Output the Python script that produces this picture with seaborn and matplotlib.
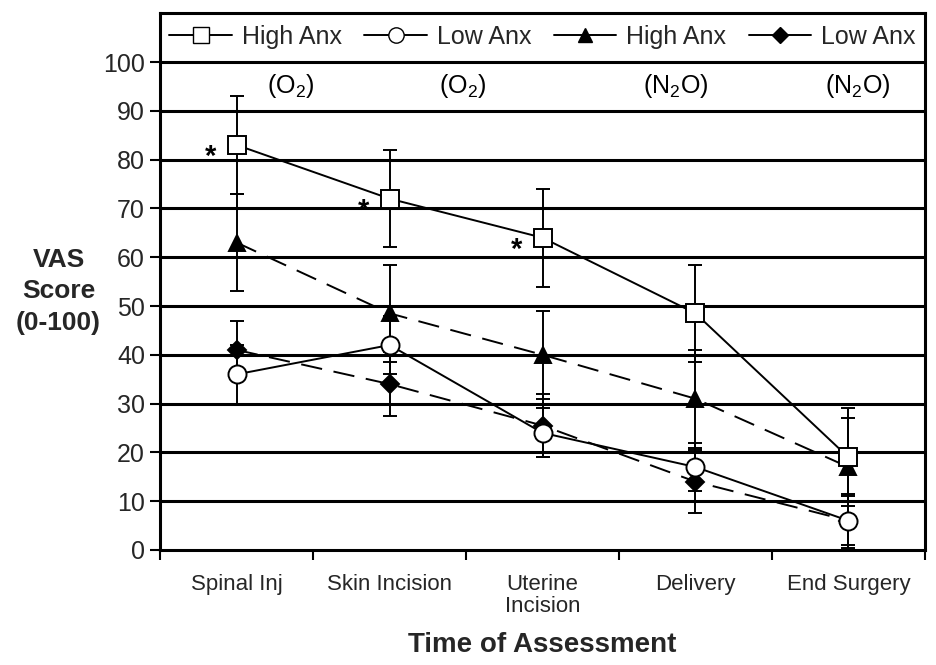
import matplotlib
matplotlib.use("Agg")
import matplotlib.pyplot as plt
import seaborn as sns
import pandas as pd
import numpy as np
from matplotlib.lines import Line2D

categories = ["Spinal Inj", "Skin Incision", "Uterine\nIncision", "Delivery", "End Surgery"]
high_o2 = [83, 72, 64, 48.5, 19]
high_o2_err = [10, 10, 10, 10, 10]
low_o2 = [36, 42, 24, 17, 6]
low_o2_err = [6, 6, 5, 5, 5.5]
high_n2o = [63, 48.5, 40, 31, 17]
high_n2o_err = [10, 10, 9, 10, 10]
low_n2o = [41, 34, 25.5, 14, 6]
low_n2o_err = [6, 6.5, 6.5, 6.5, 5]
gas_labels = ["(O$_2$)", "(O$_2$)", "(N$_2$O)", "(N$_2$O)"]
gas_x = [0.85, 1.98, 3.37, 4.56]
star_idx = [0, 1, 2]

sns.set_theme(style="white")
plt.rcParams['font.family'] = ['Liberation Sans', 'DejaVu Sans']
plt.rcParams['mathtext.fontset'] = 'custom'
plt.rcParams['mathtext.rm'] = 'Liberation Sans'

fig = plt.figure(figsize=(9.37, 6.65), dpi=100)
ax = fig.add_axes([0.171, 0.173, 0.816, 0.807])

xpos = np.arange(len(categories)) + 0.5
series = [
    ("High Anx", high_o2, high_o2_err, "s", "white", "-"),
    ("Low Anx", low_o2, low_o2_err, "o", "white", "-"),
    ("High Anx ", high_n2o, high_n2o_err, "^", "black", "--"),
    ("Low Anx ", low_n2o, low_n2o_err, "D", "black", "--"),
]

# gridlines
for yv in range(10, 101, 10):
    ax.axhline(yv, color="black", lw=2.2, zorder=1)

handles = []
for i, (name, vals, errs, mk, fc, ls) in enumerate(series):
    df = pd.DataFrame({"x": xpos, "y": vals})
    ax.errorbar(xpos, vals, yerr=errs, fmt="none", ecolor="black", elinewidth=1.4,
                capsize=5, capthick=1.4, zorder=2)
    sns.lineplot(data=df, x="x", y="y", ax=ax, color="black", lw=1.4, legend=False,
                 sort=False, zorder=3 + (3 - i))
    l = ax.lines[-1]
    if ls == "--":
        l.set_dashes((11, 6))
    ms = 13 if mk in ("s", "o") else (12 if mk == "^" else 9)
    ax.plot(xpos, vals, linestyle="none", marker=mk, markersize=ms,
            markerfacecolor=fc, markeredgecolor="black", markeredgewidth=1.4,
            zorder=4 + (3 - i))
    handles.append(Line2D([], [], color="black", lw=1.4, marker=mk,
                          markersize=ms * 0.85, markerfacecolor=fc,
                          markeredgecolor="black"))

for k in star_idx:
    ax.text(xpos[k] - 0.17, high_o2[k] - 2.5, "*", fontsize=21, ha="center",
            va="center", color="black", fontweight="bold")

for gx, gl in zip(gas_x, gas_labels):
    ax.text(gx, 95, gl, fontsize=18, ha="center", va="center", color="black")

leg = ax.legend(handles, ["High Anx", "Low Anx", "High Anx", "Low Anx"],
                loc="center", bbox_to_anchor=(0.5, 105 / 110 + 0.002), ncol=4,
                frameon=False, fontsize=18, handlelength=2.5, handletextpad=0.4,
                columnspacing=0.9, borderaxespad=0)

ax.set_xlim(0, 5)
ax.set_ylim(0, 110)
ax.set_yticks(range(0, 101, 10))
ax.set_yticklabels([str(v) for v in range(0, 101, 10)], fontsize=18)
ax.set_xticks(range(0, 6))
ax.set_xticklabels([])
ax.set_xticks(xpos, minor=True)
ax.set_xticklabels(categories, minor=True, fontsize=16, va="top", linespacing=1.1)
ax.tick_params(axis="x", which="major", length=7, width=1.5, direction="out",
               bottom=True, color="black")
ax.tick_params(axis="x", which="minor", length=0, pad=17)
ax.tick_params(axis="y", length=7, width=1.5, direction="out", left=True,
               color="black", pad=4)
for sp in ax.spines.values():
    sp.set_color("black")
    sp.set_linewidth(2.2)

ax.set_xlabel("Time of Assessment", fontsize=20, fontweight="bold", labelpad=11)
ax.set_ylabel("VAS\nScore\n(0-100)", fontsize=19, fontweight="bold", rotation=0,
              labelpad=0, va="center", ha="center", linespacing=1.4)
ax.yaxis.set_label_coords(-0.133, 0.482)

fig.savefig("out.png", dpi=100)
